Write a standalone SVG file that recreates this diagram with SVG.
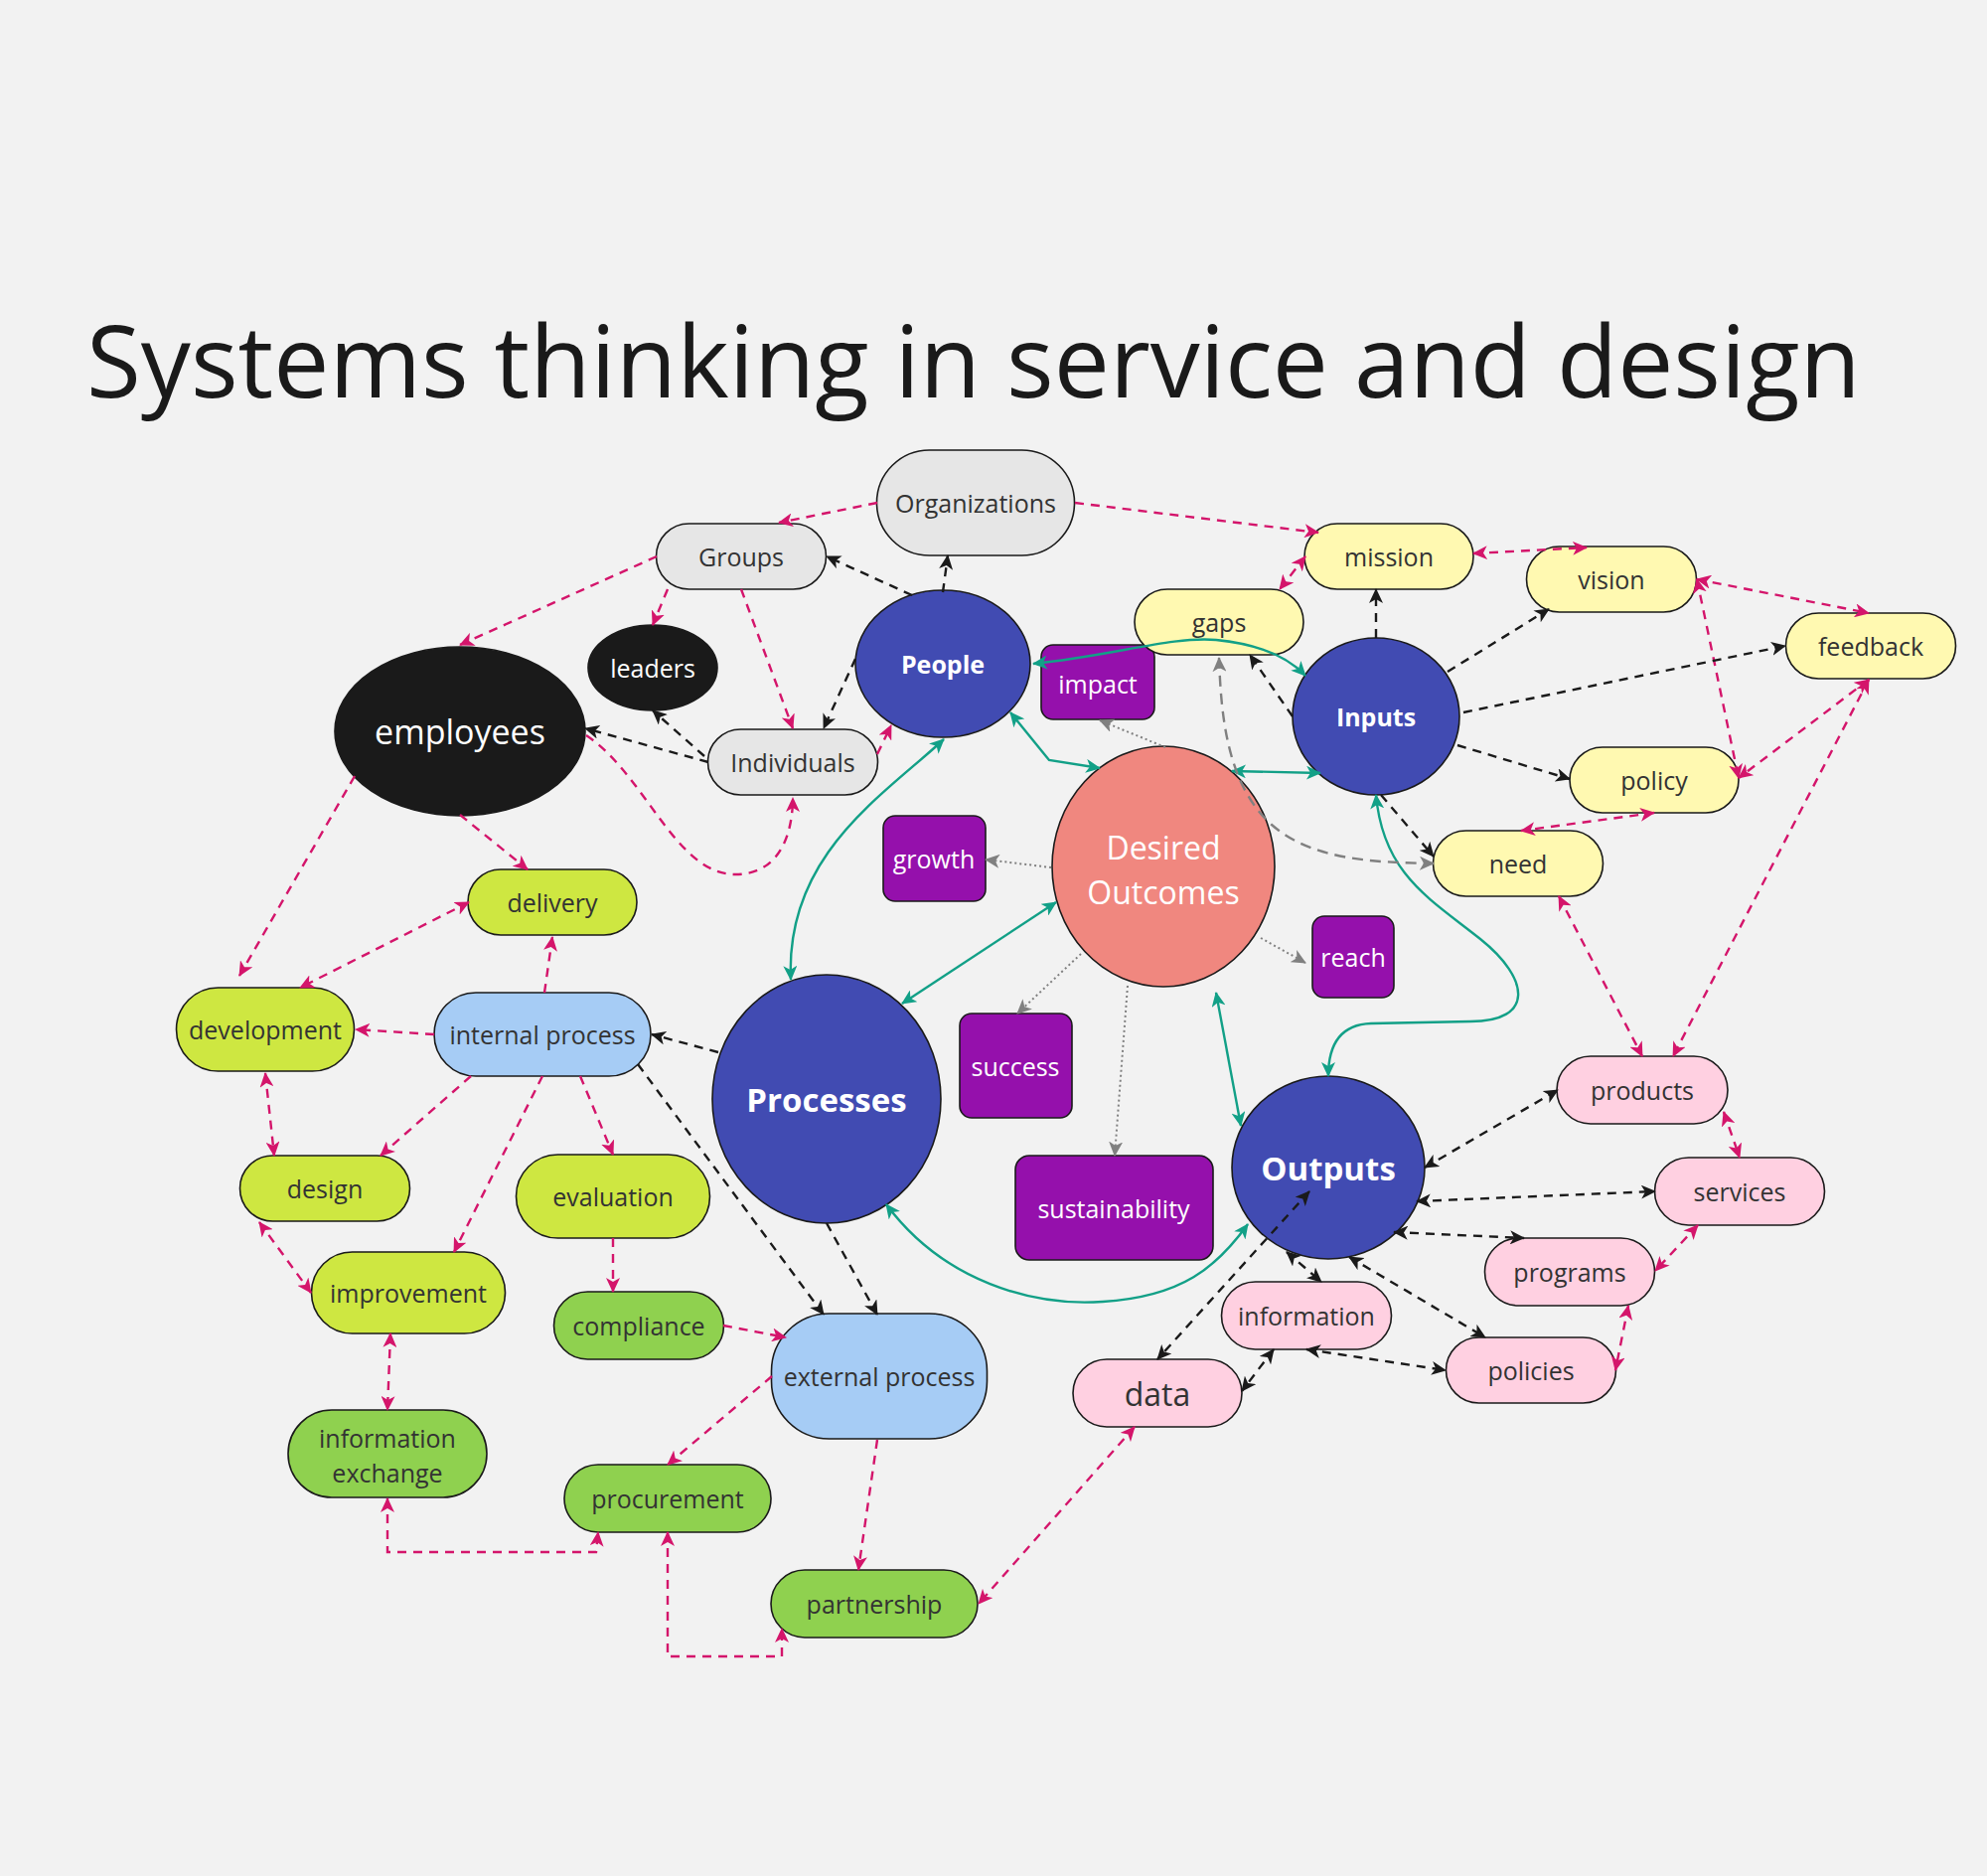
<svg xmlns="http://www.w3.org/2000/svg" width="2000" height="1888" viewBox="0 0 2000 1888">
<defs>
<style>
.t{font-family:"Open Sans","Noto Sans","Liberation Sans",sans-serif;font-size:25px;text-anchor:middle;dominant-baseline:central;fill:#333333}
.w{fill:#ffffff}
.b{font-weight:bold}
.n{stroke:#1a1a1a;stroke-width:1.6}
.grey{fill:#e6e6e6}.yel{fill:#fff9b1}.pink{fill:#ffd0e1}.lime{fill:#cee741}.grn{fill:#8fd14f}.lb{fill:#a6ccf5}.pur{fill:#9510ac}.blu{fill:#414bb2}.sal{fill:#f0877f}.blk{fill:#1a1a1a}
.e{fill:none;stroke-width:2.4}
.pk{stroke:#d4156b;stroke-dasharray:9 7;marker-end:url(#mp)}
.pk2{marker-start:url(#mp)}
.bk{stroke:#1a1a1a;stroke-dasharray:9 7;marker-end:url(#mb)}
.bk2{marker-start:url(#mb)}
.tl{stroke:#12a087;marker-end:url(#mt);marker-start:url(#mt)}
.gd{stroke:#808080;stroke-dasharray:11 7;marker-end:url(#mg);marker-start:url(#mg)}
.go{stroke:#808080;stroke-width:2;stroke-dasharray:2 3;marker-end:url(#mg)}
</style>
<marker id="mp" markerUnits="userSpaceOnUse" markerWidth="16" markerHeight="14" refX="14" refY="7" orient="auto-start-reverse"><path d="M0,0 L15,7 L0,14 L4,7 z" fill="#d4156b"/></marker>
<marker id="mb" markerUnits="userSpaceOnUse" markerWidth="16" markerHeight="14" refX="14" refY="7" orient="auto-start-reverse"><path d="M0,0 L15,7 L0,14 L4,7 z" fill="#1a1a1a"/></marker>
<marker id="mt" markerUnits="userSpaceOnUse" markerWidth="16" markerHeight="14" refX="14" refY="7" orient="auto-start-reverse"><path d="M0,0 L15,7 L0,14 L4,7 z" fill="#12a087"/></marker>
<marker id="mg" markerUnits="userSpaceOnUse" markerWidth="16" markerHeight="14" refX="14" refY="7" orient="auto-start-reverse"><path d="M0,0 L15,7 L0,14 L4,7 z" fill="#808080"/></marker>
</defs>
<rect x="0" y="0" width="2000" height="1888" fill="#f2f2f2"/>
<text x="87" y="400" font-family="'Open Sans','Noto Sans','Liberation Sans',sans-serif" font-size="100" fill="#1a1a1a">Systems thinking in service and design</text>

<g id="nodes">
<g id="organizations"><rect class="n grey" x="882.5" y="453" width="199" height="106" rx="53"/><text class="t" x="982" y="506">Organizations</text></g>
<g id="groups"><rect class="n grey" x="660.5" y="527" width="171" height="66" rx="33"/><text class="t" x="746" y="560">Groups</text></g>
<g id="individuals"><rect class="n grey" x="712.5" y="734" width="171" height="66" rx="33"/><text class="t" x="798" y="767">Individuals</text></g>
<g id="leaders"><ellipse class="n blk" cx="657" cy="672" rx="65" ry="43"/><text class="t w" x="657" y="672">leaders</text></g>
<g id="employees"><ellipse class="n blk" cx="463" cy="736" rx="126" ry="85"/><text class="t w" x="463" y="736" font-size="34" style="font-size:34px">employees</text></g>
<g id="people"><ellipse class="n blu" cx="949" cy="668" rx="88" ry="74"/><text class="t w b" x="949" y="668">People</text></g>
<g id="impact"><rect class="n pur" x="1048" y="649" width="114" height="75" rx="12"/><text class="t w" x="1105" y="688">impact</text></g>
<g id="gaps"><rect class="n yel" x="1142" y="593" width="170" height="66" rx="33"/><text class="t" x="1227" y="626">gaps</text></g>
<g id="mission"><rect class="n yel" x="1313" y="527" width="170" height="66" rx="33"/><text class="t" x="1398" y="560">mission</text></g>
<g id="vision"><rect class="n yel" x="1536.5" y="550" width="171" height="66" rx="33"/><text class="t" x="1622" y="583">vision</text></g>
<g id="feedback"><rect class="n yel" x="1797.5" y="617" width="171" height="66" rx="33"/><text class="t" x="1883" y="650">feedback</text></g>
<g id="inputs"><ellipse class="n blu" cx="1385" cy="721" rx="84" ry="79"/><text class="t w b" x="1385" y="721">Inputs</text></g>
<g id="policy"><rect class="n yel" x="1580" y="752" width="170" height="66" rx="33"/><text class="t" x="1665" y="785">policy</text></g>
<g id="need"><rect class="n yel" x="1442.5" y="836" width="171" height="66" rx="33"/><text class="t" x="1528" y="869">need</text></g>
<g id="desired-outcomes"><ellipse class="n sal" cx="1171" cy="872" rx="112" ry="121"/><text class="t w" x="1171" y="852" style="font-size:32px">Desired</text><text class="t w" x="1171" y="897" style="font-size:32px">Outcomes</text></g>
<g id="growth"><rect class="n pur" x="889" y="821" width="103" height="86" rx="12"/><text class="t w" x="940" y="864">growth</text></g>
<g id="reach"><rect class="n pur" x="1321" y="922" width="82" height="82" rx="12"/><text class="t w" x="1362" y="963">reach</text></g>
<g id="success"><rect class="n pur" x="966" y="1020" width="113" height="105" rx="12"/><text class="t w" x="1022" y="1073">success</text></g>
<g id="sustainability"><rect class="n pur" x="1022" y="1163" width="199" height="105" rx="14"/><text class="t w" x="1121" y="1216">sustainability</text></g>
<g id="processes"><ellipse class="n blu" cx="832" cy="1106" rx="115" ry="125"/><text class="t w b" x="832" y="1106" style="font-size:33px">Processes</text></g>
<g id="outputs"><ellipse class="n blu" cx="1337" cy="1175" rx="97" ry="92"/><text class="t w b" x="1337" y="1175" style="font-size:33px">Outputs</text></g>
<g id="delivery"><rect class="n lime" x="471" y="875" width="170" height="66" rx="33"/><text class="t" x="556" y="908">delivery</text></g>
<g id="development"><rect class="n lime" x="177.5" y="994" width="179" height="84" rx="42"/><text class="t" x="267" y="1036">development</text></g>
<g id="internal-process"><rect class="n lb" x="437" y="999" width="218" height="84" rx="42"/><text class="t" x="546" y="1041">internal process</text></g>
<g id="design"><rect class="n lime" x="241.5" y="1163" width="171" height="66" rx="33"/><text class="t" x="327" y="1196">design</text></g>
<g id="evaluation"><rect class="n lime" x="519.5" y="1162" width="195" height="84" rx="42"/><text class="t" x="617" y="1204">evaluation</text></g>
<g id="improvement"><rect class="n lime" x="313.5" y="1260" width="195" height="82" rx="41"/><text class="t" x="411" y="1301">improvement</text></g>
<g id="compliance"><rect class="n grn" x="557.5" y="1300" width="171" height="68" rx="34"/><text class="t" x="643" y="1334">compliance</text></g>
<g id="external-process"><rect class="n lb" x="776.5" y="1322" width="217" height="126" rx="58"/><text class="t" x="885" y="1385">external process</text></g>
<g id="information-exchange"><rect class="n grn" x="290" y="1419" width="200" height="88" rx="44"/><text class="t" x="390" y="1447">information</text><text class="t" x="390" y="1482">exchange</text></g>
<g id="procurement"><rect class="n grn" x="568" y="1474" width="208" height="68" rx="34"/><text class="t" x="672" y="1508">procurement</text></g>
<g id="partnership"><rect class="n grn" x="776" y="1580" width="208" height="68" rx="34"/><text class="t" x="880" y="1614">partnership</text></g>
<g id="data"><rect class="n pink" x="1080" y="1368" width="170" height="68" rx="34"/><text class="t" x="1165" y="1402" style="font-size:32px">data</text></g>
<g id="information"><rect class="n pink" x="1229.5" y="1290" width="171" height="68" rx="34"/><text class="t" x="1315" y="1324">information</text></g>
<g id="policies"><rect class="n pink" x="1455.5" y="1346" width="171" height="66" rx="33"/><text class="t" x="1541" y="1379">policies</text></g>
<g id="programs"><rect class="n pink" x="1494.5" y="1246" width="171" height="68" rx="34"/><text class="t" x="1580" y="1280">programs</text></g>
<g id="services"><rect class="n pink" x="1665.5" y="1165" width="171" height="68" rx="34"/><text class="t" x="1751" y="1199">services</text></g>
<g id="products"><rect class="n pink" x="1567" y="1063" width="172" height="68" rx="34"/><text class="t" x="1653" y="1097">products</text></g>
</g>

<g id="connectors">
<!-- pink -->
<path class="e pk" d="M883,506 L784,526"/>
<path class="e pk" d="M1082,506 L1327,536"/>
<path class="e pk" d="M661,560 L463,649"/>
<path class="e pk" d="M672,593 L657,629"/>
<path class="e pk" d="M746,593 L798,733"/>
<path class="e pk" d="M883,759 L897,730"/>
<path class="e pk" d="M590,740 C650,780 680,880 740,880 C790,880 798,830 798,803"/>
<path class="e pk" d="M357,781 L241,982"/>
<path class="e pk" d="M463,820 L531,875"/>
<path class="e pk pk2" d="M472,908 L302,994"/>
<path class="e pk" d="M548,999 L556,943"/>
<path class="e pk" d="M437,1041 L358,1036"/>
<path class="e pk pk2" d="M267,1080 L276,1163"/>
<path class="e pk" d="M474,1083 L383,1163"/>
<path class="e pk" d="M546,1083 L457,1260"/>
<path class="e pk" d="M584,1083 L617,1162"/>
<path class="e pk pk2" d="M261,1230 L313,1301"/>
<path class="e pk" d="M617,1246 L617,1300"/>
<path class="e pk" d="M728,1334 L791,1346"/>
<path class="e pk pk2" d="M393,1342 L390,1419"/>
<path class="e pk" d="M777,1385 L672,1474"/>
<path class="e pk" d="M883,1449 L864,1580"/>
<path class="e pk pk2" d="M390,1508 L390,1562 L600,1562 L602,1542"/>
<path class="e pk pk2" d="M672,1542 L672,1667 L787,1667 L787,1639"/>
<path class="e pk pk2" d="M1142,1436 L985,1614"/>
<path class="e pk pk2" d="M1314,560 L1288,593"/>
<path class="e pk pk2" d="M1483,557 L1597,551"/>
<path class="e pk pk2" d="M1708,583 L1881,617"/>
<path class="e pk pk2" d="M1708,583 L1750,783"/>
<path class="e pk pk2" d="M1881,684 L1750,783"/>
<path class="e pk pk2" d="M1881,684 L1684,1063"/>
<path class="e pk pk2" d="M1665,818 L1531,836"/>
<path class="e pk pk2" d="M1569,902 L1653,1063"/>
<path class="e pk pk2" d="M1735,1119 L1751,1165"/>
<path class="e pk pk2" d="M1709,1233 L1666,1279"/>
<path class="e pk pk2" d="M1639,1314 L1626,1379"/>
<!-- black -->
<path class="e bk" d="M949,596 L954,559"/>
<path class="e bk" d="M918,599 L832,560"/>
<path class="e bk" d="M861,663 L829,733"/>
<path class="e bk" d="M713,767 L589,733"/>
<path class="e bk" d="M709,761 L657,715"/>
<path class="e bk" d="M1385,642 L1385,593"/>
<path class="e bk" d="M1457,676 L1559,613"/>
<path class="e bk" d="M1473,717 L1797,650"/>
<path class="e bk" d="M1467,750 L1580,784"/>
<path class="e bk" d="M1390,800 L1443,862"/>
<path class="e bk" d="M1301,721 L1258,659"/>
<path class="e bk" d="M723,1059 L656,1041"/>
<path class="e bk" d="M642,1071 L829,1323"/>
<path class="e bk" d="M832,1231 L883,1323"/>
<path class="e bk bk2" d="M1434,1175 L1568,1097"/>
<path class="e bk bk2" d="M1426,1209 L1666,1199"/>
<path class="e bk bk2" d="M1403,1240 L1534,1246"/>
<path class="e bk bk2" d="M1358,1265 L1495,1346"/>
<path class="e bk bk2" d="M1295,1260 L1330,1290"/>
<path class="e bk bk2" d="M1318,1199 L1165,1368"/>
<path class="e bk bk2" d="M1282,1358 L1250,1400"/>
<path class="e bk bk2" d="M1315,1358 L1455,1379"/>
<!-- teal -->
<path class="e tl" d="M1040,668 C1120,660 1180,640 1224,644 C1265,648 1295,660 1314,680"/>
<path class="e tl" d="M1017,717 L1056,765 L1107,773"/>
<path class="e tl" d="M1240,776 L1329,778"/>
<path class="e tl" d="M950,744 C890,800 790,860 796,986"/>
<path class="e tl" d="M1063,908 L908,1010"/>
<path class="e tl" d="M1224,999 L1249,1133"/>
<path class="e tl" d="M1385,800 C1392,880 1440,905 1490,945 C1540,985 1545,1028 1480,1028 L1380,1030 C1350,1031 1337,1050 1337,1083"/>
<path class="e tl" d="M892,1212 C950,1290 1040,1315 1110,1310 C1190,1305 1225,1275 1256,1232"/>
<!-- grey -->
<path class="e gd" d="M1227,662 C1229,720 1235,790 1280,830 C1320,865 1380,868 1443,869"/>
<path class="e go" d="M1173,752 L1107,725"/>
<path class="e go" d="M1058,873 L992,865"/>
<path class="e go" d="M1269,944 L1314,969"/>
<path class="e go" d="M1088,960 L1024,1020"/>
<path class="e go" d="M1135,992 L1122,1163"/>
</g>
</svg>
